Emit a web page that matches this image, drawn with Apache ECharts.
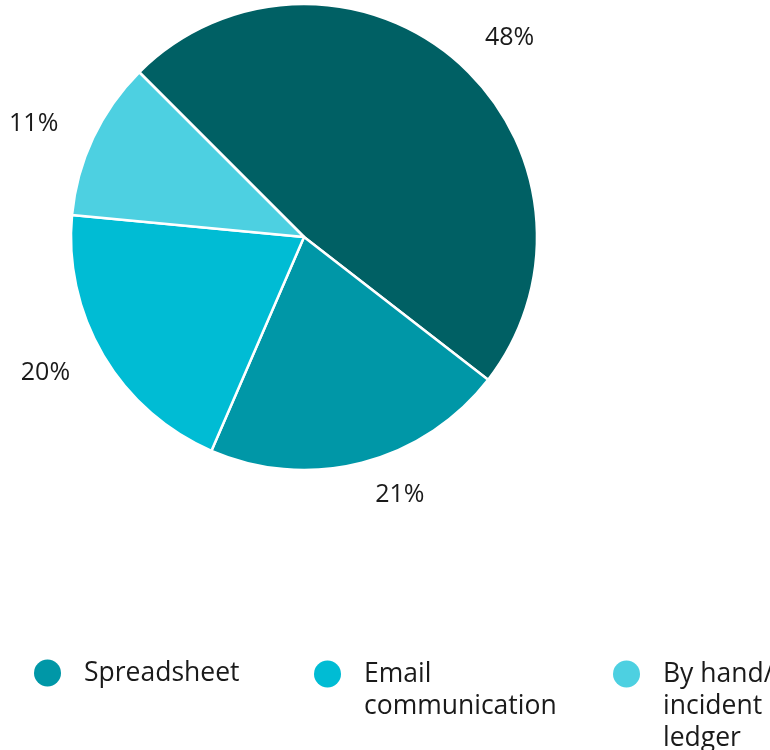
<!DOCTYPE html>
<html>
<head>
<meta charset="utf-8">
<script src="https://cdn.jsdelivr.net/npm/echarts@6/dist/echarts.min.js"></script>
<style>
html,body{margin:0;padding:0;background:#fff;}
#chart{width:770px;height:750px;}
</style>
</head>
<body>
<div id="chart"></div>
<script>
var categories = ['Other', 'Spreadsheet', 'Email communication', 'By hand/ incident ledger'];
var values = [48, 21, 20, 11];
var colors = ['#006064', '#0097a7', '#00bcd4', '#4dd0e1'];
var legendNames = ['Spreadsheet', 'Email communication', 'By hand/ incident ledger'];

var FONT = '"Open Sans", "Noto Sans", sans-serif';
var chart = echarts.init(document.getElementById('chart'));

// lead: number of empty lines prepended so the first text line sits level with the icon
var legendCfg = [
  {left: 34, top: 657, width: 220, lead: 0},
  {left: 314, top: 626, width: 205, lead: 1},
  {left: 613, top: 594, width: 120, lead: 2}
];

var legends = legendNames.map(function (n, i) {
  var c = legendCfg[i];
  return {
    data: [n],
    left: c.left,
    top: c.top,
    orient: 'horizontal',
    padding: 0,
    icon: 'circle',
    symbolKeepAspect: true,
    itemWidth: 63,
    itemHeight: 27,
    itemGap: 0,
    selectedMode: false,
    itemStyle: {borderWidth: 0},
    formatter: function (name) {
      return new Array(c.lead + 1).join('\n') + name;
    },
    textStyle: {
      fontFamily: FONT,
      fontSize: 26.5,
      color: '#1a1a1a',
      lineHeight: 32,
      width: c.width,
      overflow: 'break'
    }
  };
});

chart.setOption({
  animation: false,
  color: colors,
  legend: legends,
  series: [{
    type: 'pie',
    center: [304, 237],
    radius: [0, 233],
    startAngle: 135,
    clockwise: true,
    avoidLabelOverlap: false,
    data: categories.map(function (n, i) { return {name: n, value: values[i]}; }),
    itemStyle: {borderColor: '#ffffff', borderWidth: 2.5},
    label: {
      show: true,
      position: 'outside',
      formatter: '{c}%',
      fontFamily: FONT,
      fontSize: 25,
      color: '#1a1a1a'
    },
    labelLine: {show: false, length: 33, length2: 0},
    emphasis: {disabled: true}
  }]
});
</script>
</body>
</html>
